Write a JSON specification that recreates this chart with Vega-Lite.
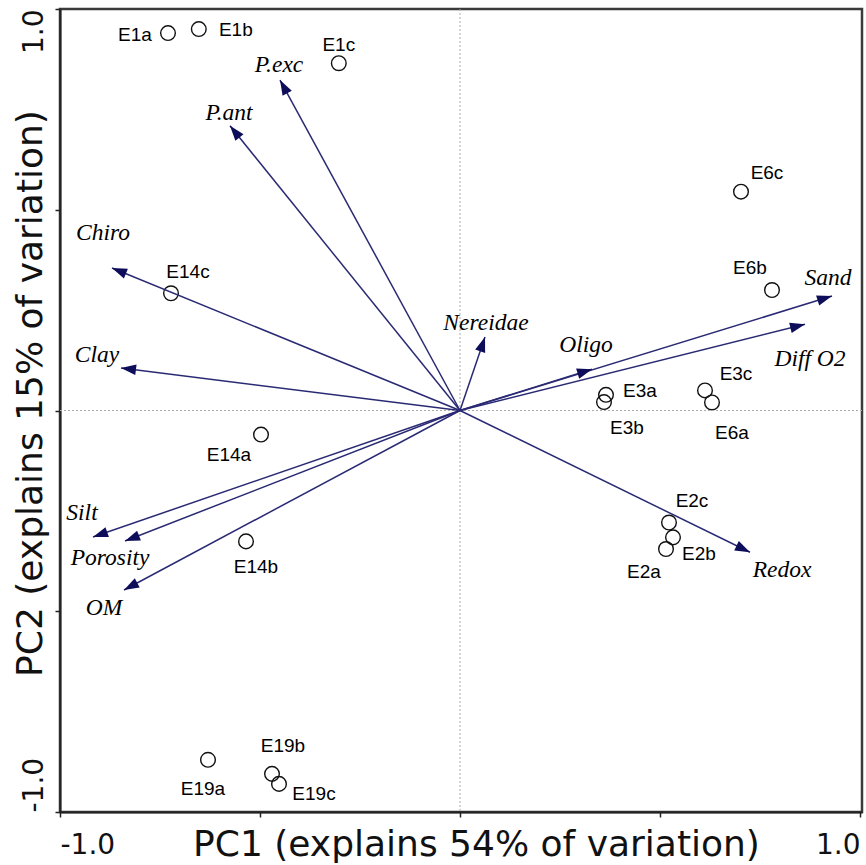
{
  "$schema": "https://vega.github.io/schema/vega-lite/v6.json",
  "width": 802,
  "height": 803,
  "autosize": {"type": "none"},
  "padding": {"left": 60, "top": 9, "right": 4, "bottom": 53},
  "background": "white",
  "config": {
    "view": {"stroke": "#3a3a3a", "strokeWidth": 2.5},
    "axis": {"grid": false},
    "style": {
      "site": {"font": "Liberation Sans", "fontSize": 19, "fill": "#222", "align": "center", "baseline": "middle"},
      "vec": {"font": "Liberation Serif", "fontSize": 23.5, "fontStyle": "italic", "fill": "#222", "align": "center", "baseline": "middle"}
    }
  },
  "datasets": {
    "sites": [
      {"site": "E1a", "x": -0.73, "y": 0.94},
      {"site": "E1b", "x": -0.653, "y": 0.95},
      {"site": "E1c", "x": -0.303, "y": 0.865},
      {"site": "E6c", "x": 0.7025, "y": 0.545},
      {"site": "E6b", "x": 0.78, "y": 0.3},
      {"site": "E14c", "x": -0.7225, "y": 0.292},
      {"site": "E3a", "x": 0.365, "y": 0.039},
      {"site": "E3b", "x": 0.36, "y": 0.021},
      {"site": "E3c", "x": 0.6125, "y": 0.05},
      {"site": "E6a", "x": 0.63, "y": 0.02},
      {"site": "E14a", "x": -0.4975, "y": -0.06},
      {"site": "E14b", "x": -0.535, "y": -0.326},
      {"site": "E2c", "x": 0.5225, "y": -0.279},
      {"site": "E2b", "x": 0.5325, "y": -0.316},
      {"site": "E2a", "x": 0.515, "y": -0.345},
      {"site": "E19a", "x": -0.63, "y": -0.87},
      {"site": "E19b", "x": -0.47, "y": -0.905},
      {"site": "E19c", "x": -0.4525, "y": -0.93}
    ],
    "vectors": [
      {"var": "P.exc", "x": -0.45, "y": 0.823},
      {"var": "P.ant", "x": -0.575, "y": 0.709},
      {"var": "Chiro", "x": -0.87, "y": 0.355},
      {"var": "Clay", "x": -0.8475, "y": 0.106},
      {"var": "Silt", "x": -0.9175, "y": -0.315},
      {"var": "Porosity", "x": -0.8375, "y": -0.325},
      {"var": "OM", "x": -0.84, "y": -0.447},
      {"var": "Nereidae", "x": 0.0625, "y": 0.183},
      {"var": "Oligo", "x": 0.33, "y": 0.103},
      {"var": "Sand", "x": 0.93, "y": 0.285},
      {"var": "Diff O2", "x": 0.8625, "y": 0.215},
      {"var": "Redox", "x": 0.725, "y": -0.353}
    ]
  },
  "layer": [
    {
      "data": {"name": "sites"},
      "mark": {"type": "point", "shape": "circle", "filled": false, "color": "#111", "strokeWidth": 1.4, "size": 215, "opacity": 1},
      "encoding": {
        "x": {
          "field": "x", "type": "quantitative",
          "scale": {"domain": [-1, 1.005], "nice": false, "zero": false},
          "axis": {
            "values": [-1, -0.5, 0, 0.5, 1],
            "labelExpr": "datum.value == 1 ? '1.0' : datum.value == -1 ? '-1.0' : ''",
            "labelFont": "DejaVu Sans", "labelFontSize": 28, "labelColor": "#111",
            "labelFlush": 5, "labelBaseline": "alphabetic", "labelPadding": 36, "labelOverlap": false,
            "tickSize": 5, "tickWidth": 1.5, "tickColor": "#222",
            "domainColor": "#222", "domainWidth": 2,
            "title": "PC1 (explains 54% of variation)",
            "titleFont": "DejaVu Sans", "titleFontSize": 36, "titleFontWeight": "normal", "titleColor": "#111",
            "titleX": 416, "titleY": 43, "titleAlign": "center", "titleBaseline": "alphabetic"
          }
        },
        "y": {
          "field": "y", "type": "quantitative",
          "scale": {"domain": [-1, 1], "nice": false, "zero": false},
          "axis": {
            "values": [-1, -0.5, 0, 0.5, 1],
            "labelExpr": "datum.value == 1 ? '1.0' : datum.value == -1 ? '-1.0' : ''",
            "labelFont": "DejaVu Sans", "labelFontSize": 28, "labelColor": "#111",
            "labelAngle": -90,
            "labelAlign": {"condition": {"test": "datum.value < 0", "value": "left"}, "value": "right"},
            "labelBaseline": "alphabetic", "labelPadding": 13, "labelOverlap": false,
            "tickSize": 5, "tickWidth": 1.5, "tickColor": "#222",
            "domainColor": "#222", "domainWidth": 2,
            "title": "PC2 (explains 15% of variation)",
            "titleFont": "DejaVu Sans", "titleFontSize": 36, "titleFontWeight": "normal", "titleColor": "#111",
            "titleX": -19, "titleY": 384, "titleAlign": "center", "titleBaseline": "alphabetic", "titleAngle": -90
          }
        }
      }
    },
    {
      "data": {"values": [{}]},
      "mark": {"type": "rule", "color": "#aaaaaa", "strokeDash": [2, 2], "strokeWidth": 1},
      "encoding": {"x": {"datum": 0, "type": "quantitative"}}
    },
    {
      "data": {"values": [{}]},
      "mark": {"type": "rule", "color": "#aaaaaa", "strokeDash": [2, 2], "strokeWidth": 1},
      "encoding": {"y": {"datum": 0, "type": "quantitative"}}
    },
    {
      "data": {"name": "vectors"},
      "mark": {"type": "rule", "color": "#2a2a74", "strokeWidth": 1.5},
      "encoding": {
        "x": {"field": "x", "type": "quantitative"},
        "y": {"field": "y", "type": "quantitative"},
        "x2": {"datum": 0},
        "y2": {"datum": 0}
      }
    },
    {
      "data": {"name": "vectors"},
      "transform": [{"calculate": "atan2(datum.x, datum.y) * 180 / PI", "as": "angle"}],
      "mark": {"type": "point", "shape": "M0,0L0.7,2L-0.7,2Z", "filled": true, "color": "#0d0d5a", "size": 225, "opacity": 1},
      "encoding": {
        "x": {"field": "x", "type": "quantitative"},
        "y": {"field": "y", "type": "quantitative"},
        "angle": {"field": "angle", "type": "quantitative", "scale": null}
      }
    },
    {
      "data": {"name": "vectors"},
      "encoding": {
        "x": {"field": "x", "type": "quantitative"},
        "y": {"field": "y", "type": "quantitative"},
        "text": {"field": "var"}
      },
      "layer": [
        {"transform": [{"filter": "datum.var == 'P.exc'"}], "mark": {"type": "text", "style": "vec", "dx": -1, "dy": -15}},
        {"transform": [{"filter": "datum.var == 'P.ant'"}], "mark": {"type": "text", "style": "vec", "dx": -1, "dy": -13}},
        {"transform": [{"filter": "datum.var == 'Chiro'"}], "mark": {"type": "text", "style": "vec", "dx": -9, "dy": -35}},
        {"transform": [{"filter": "datum.var == 'Clay'"}], "mark": {"type": "text", "style": "vec", "dx": -24, "dy": -13}},
        {"transform": [{"filter": "datum.var == 'Silt'"}], "mark": {"type": "text", "style": "vec", "dx": -11, "dy": -24}},
        {"transform": [{"filter": "datum.var == 'Porosity'"}], "mark": {"type": "text", "style": "vec", "dx": -15, "dy": 17}},
        {"transform": [{"filter": "datum.var == 'OM'"}], "mark": {"type": "text", "style": "vec", "dx": -20, "dy": 18}},
        {"transform": [{"filter": "datum.var == 'Nereidae'"}], "mark": {"type": "text", "style": "vec", "dx": 1, "dy": -14}},
        {"transform": [{"filter": "datum.var == 'Oligo'"}], "mark": {"type": "text", "style": "vec", "dx": -6, "dy": -24}},
        {"transform": [{"filter": "datum.var == 'Sand'"}], "mark": {"type": "text", "style": "vec", "dx": -4, "dy": -18}},
        {"transform": [{"filter": "datum.var == 'Diff O2'"}], "mark": {"type": "text", "style": "vec", "dx": 5, "dy": 35}},
        {"transform": [{"filter": "datum.var == 'Redox'"}], "mark": {"type": "text", "style": "vec", "dx": 32, "dy": 18}}
      ]
    },
    {
      "data": {"name": "sites"},
      "encoding": {
        "x": {"field": "x", "type": "quantitative"},
        "y": {"field": "y", "type": "quantitative"},
        "text": {"field": "site"}
      },
      "layer": [
        {"transform": [{"filter": "datum.site == 'E1a'"}], "mark": {"type": "text", "style": "site", "dx": -33, "dy": 2}},
        {"transform": [{"filter": "datum.site == 'E1b'"}], "mark": {"type": "text", "style": "site", "dx": 37, "dy": 1}},
        {"transform": [{"filter": "datum.site == 'E1c'"}], "mark": {"type": "text", "style": "site", "dx": 0, "dy": -18}},
        {"transform": [{"filter": "datum.site == 'E6c'"}], "mark": {"type": "text", "style": "site", "dx": 26, "dy": -19}},
        {"transform": [{"filter": "datum.site == 'E6b'"}], "mark": {"type": "text", "style": "site", "dx": -22, "dy": -22}},
        {"transform": [{"filter": "datum.site == 'E14c'"}], "mark": {"type": "text", "style": "site", "dx": 17, "dy": -21}},
        {"transform": [{"filter": "datum.site == 'E3a'"}], "mark": {"type": "text", "style": "site", "dx": 34, "dy": -4}},
        {"transform": [{"filter": "datum.site == 'E3b'"}], "mark": {"type": "text", "style": "site", "dx": 23, "dy": 26}},
        {"transform": [{"filter": "datum.site == 'E3c'"}], "mark": {"type": "text", "style": "site", "dx": 31, "dy": -16}},
        {"transform": [{"filter": "datum.site == 'E6a'"}], "mark": {"type": "text", "style": "site", "dx": 20, "dy": 31}},
        {"transform": [{"filter": "datum.site == 'E14a'"}], "mark": {"type": "text", "style": "site", "dx": -32, "dy": 20}},
        {"transform": [{"filter": "datum.site == 'E14b'"}], "mark": {"type": "text", "style": "site", "dx": 10, "dy": 26}},
        {"transform": [{"filter": "datum.site == 'E2c'"}], "mark": {"type": "text", "style": "site", "dx": 23, "dy": -22}},
        {"transform": [{"filter": "datum.site == 'E2b'"}], "mark": {"type": "text", "style": "site", "dx": 26, "dy": 17}},
        {"transform": [{"filter": "datum.site == 'E2a'"}], "mark": {"type": "text", "style": "site", "dx": -22, "dy": 23}},
        {"transform": [{"filter": "datum.site == 'E19a'"}], "mark": {"type": "text", "style": "site", "dx": -5, "dy": 29}},
        {"transform": [{"filter": "datum.site == 'E19b'"}], "mark": {"type": "text", "style": "site", "dx": 11, "dy": -28}},
        {"transform": [{"filter": "datum.site == 'E19c'"}], "mark": {"type": "text", "style": "site", "dx": 35, "dy": 10}}
      ]
    }
  ]
}
